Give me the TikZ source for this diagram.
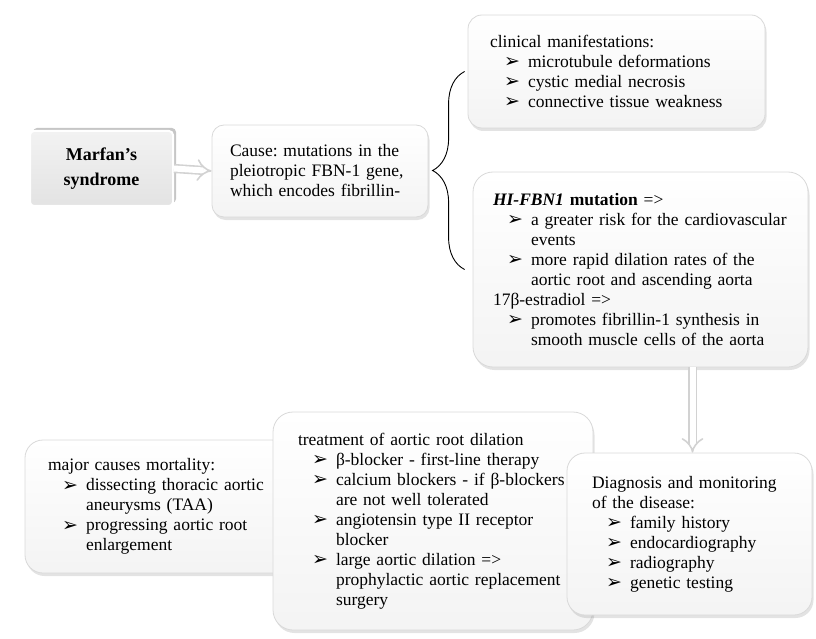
\documentclass[tikz,border=0pt]{standalone}
\usepackage{fontspec}
\setmainfont{Liberation Serif}
\newfontfamily\dingfont{DejaVu Sans}
\usetikzlibrary{shadows,arrows.meta,decorations.pathreplacing,calc}
\frenchspacing
\newcommand\bul{{\dingfont\fontsize{19}{19}\selectfont\raisebox{-0.5pt}{➢}}}
\newcommand\bitem[1]{\\\hspace*{14pt}\makebox[24pt][l]{\bul}\mbox{#1}}
\newcommand\citem[1]{\\\hspace*{38pt}\mbox{#1}}
\tikzset{
  box/.style={rectangle, rounded corners=16pt, draw=gray!30, line width=0.8pt,
    top color=white, bottom color=gray!9,
    drop shadow={opacity=0.22, shadow xshift=1.5pt, shadow yshift=-3pt},
    align=left, inner ysep=2pt, font=\fontsize{17.5}{20}\selectfont},
  titlebox/.style={rectangle, rounded corners=4pt, draw=white, line width=2pt,
    top color=gray!10, bottom color=gray!22,
    drop shadow={opacity=0.45, shadow xshift=3pt, shadow yshift=3pt},
    align=center, font=\bfseries\fontsize{18}{25}\selectfont},
  hollow/.style={draw=gray!35, line width=1.6pt, double=white, double distance=6pt,
    -{Implies[length=7pt]}},
}
\begin{document}
\begin{tikzpicture}[x=1pt,y=-1pt]
\useasboundingbox (0,0) rectangle (816,639);

\node[titlebox, minimum width=143pt, minimum height=75pt] (marfan) at (101.5,168.5)
  {Marfan’s\\syndrome};

\node[box, minimum width=216pt, minimum height=92pt, text width=180pt, inner xsep=18pt,
  rounded corners=12pt] (cause) at (320,171)
  {\mbox{Cause: mutations in the}\\\mbox{pleiotropic FBN-1 gene,}\\\mbox{which encodes fibrillin-}};

\node[box, minimum width=297pt, minimum height=113pt, text width=253pt, inner xsep=22pt,
  rounded corners=14pt] (clinical) at (616.5,71.5)
  {\mbox{clinical manifestations:}
   \bitem{microtubule deformations}
   \bitem{cystic medial necrosis}
   \bitem{connective tissue weakness}};

\node[box, minimum width=335pt, minimum height=195pt, text width=295pt, inner xsep=20pt,
  rounded corners=20pt] (hi) at (640.5,269.5)
  {\mbox{\textbf{\textit{HI-FBN1} mutation} =>}
   \bitem{a greater risk for the cardiovascular}
   \citem{events}
   \bitem{more rapid dilation rates of the}
   \citem{aortic root and ascending aorta}
   \\\mbox{17β-estradiol =>}
   \bitem{promotes fibrillin-1 synthesis in}
   \citem{smooth muscle cells of the aorta}};

\node[box, minimum width=265pt, minimum height=133pt, text width=219pt, inner xsep=23pt,
  rounded corners=18pt] (major) at (157.5,506.5)
  {\mbox{major causes mortality:}
   \bitem{dissecting thoracic aortic}
   \citem{aneurysms (TAA)}
   \bitem{progressing aortic root}
   \citem{enlargement}};

\node[box, minimum width=320pt, minimum height=218pt, text width=270pt, inner xsep=25pt,
  rounded corners=20pt] (treat) at (433,521)
  {\mbox{treatment of aortic root dilation}
   \bitem{β-blocker - first-line therapy}
   \bitem{calcium blockers - if β-blockers}
   \citem{are not well tolerated}
   \bitem{angiotensin type II receptor}
   \citem{blocker}
   \bitem{large aortic dilation =>}
   \citem{prophylactic aortic replacement}
   \citem{surgery}};

\node[box, minimum width=245pt, minimum height=162pt, text width=195pt, inner xsep=25pt,
  rounded corners=18pt] (diag) at (689.5,534)
  {\mbox{Diagnosis and monitoring}\\\mbox{of the disease:}
   \bitem{family history}
   \bitem{endocardiography}
   \bitem{radiography}
   \bitem{genetic testing}};

% connectors
\draw[hollow] (marfan.east) -- (cause.west);
\coordinate (dtop) at ($(hi.south -| diag.north)+(3,0)$);
\coordinate (dbot) at ($(diag.north)+(3,0)$);
\draw[hollow] (dtop) -- (dbot);

% brace
\coordinate (b1) at ($(clinical.west)+(-3,0)$);
\coordinate (b2) at (b1 |- hi.west);
\draw[line width=0.9pt, decorate, decoration={brace, amplitude=32pt, aspect=0.5}] (b2) -- (b1);
\end{tikzpicture}
\end{document}
